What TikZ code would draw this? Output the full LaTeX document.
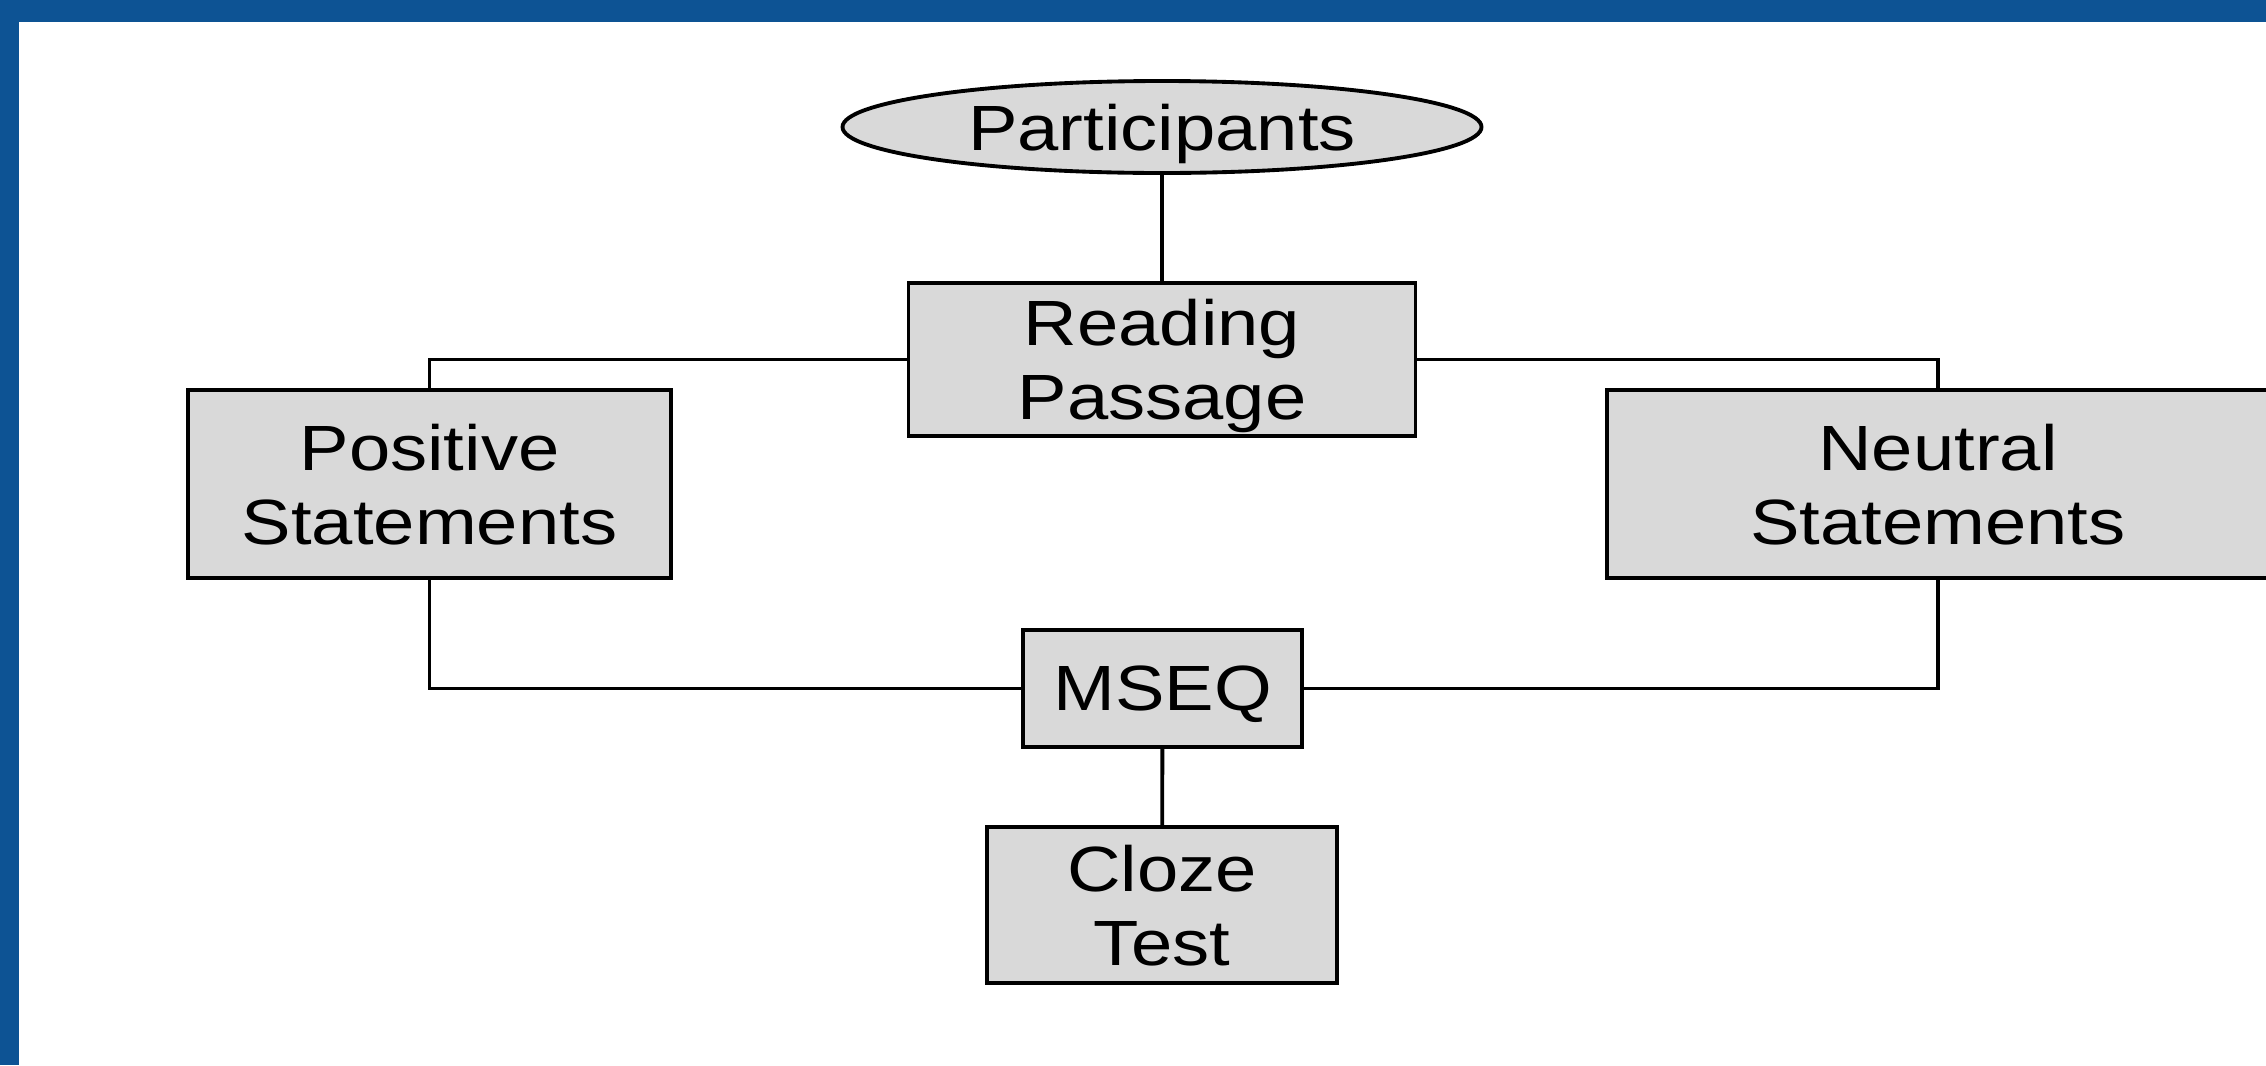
\documentclass[tikz,border=0pt]{standalone}
\usepackage{fontspec}
\setmainfont{Liberation Sans}[FakeStretch=1.16]
\usepackage{xcolor}
\usetikzlibrary{shapes.geometric, positioning, calc}
\definecolor{frameblue}{RGB}{13,83,148}
\definecolor{boxgray}{RGB}{217,217,217}

\begin{document}
\begin{tikzpicture}[
    stage/.style={draw, line width=1.1pt, fill=boxgray, align=center, inner sep=0pt,
      text depth=0pt, font=\fontsize{18.2}{21}\selectfont},
    link/.style={line width=1.1pt}
  ]
      \def\wid{22.66}
      \def\hei{10.65}

      \useasboundingbox (0,0) rectangle (\wid,-\hei);
      \clip (0,0) rectangle (\wid,-\hei);
      \fill[white] (0,0) rectangle (\wid,-\hei);

      % stages of the study
      \node[stage, ellipse, minimum width=6.39cm, minimum height=0.92cm] (part) at (11.62,-1.27) {Participants};
      \node[stage, minimum width=5.07cm, minimum height=1.53cm] (read) at (11.62,-3.595) {Reading\\Passage};
      \node[stage, minimum width=4.83cm, minimum height=1.88cm] (pos) at (4.295,-4.84) {Positive\\Statements};
      \node[stage, minimum width=6.62cm, minimum height=1.88cm] (neu) at (19.38,-4.84) {Neutral\\Statements};
      \node[stage, minimum width=2.79cm, minimum height=1.17cm] (mseq) at (11.625,-6.885) {MSEQ};
      \node[stage, minimum width=3.5cm, minimum height=1.56cm] (cloze) at (11.62,-9.05) {Cloze\\Test};

      % connections
      \draw[link] (part) -- (read);
      \draw[link] (read.west) -| (pos.north);
      \draw[link] (read.east) -| (neu.north);
      \draw[link] (pos.south) |- (mseq.west);
      \draw[link] (neu.south) |- (mseq.east);
      \draw[link] (mseq) -- (cloze);

      % slide frame
      \fill[frameblue] (0,0) rectangle (\wid,-0.22);
      \fill[frameblue] (0,0) rectangle (0.19,-\hei);
    \end{tikzpicture}
\end{document}
